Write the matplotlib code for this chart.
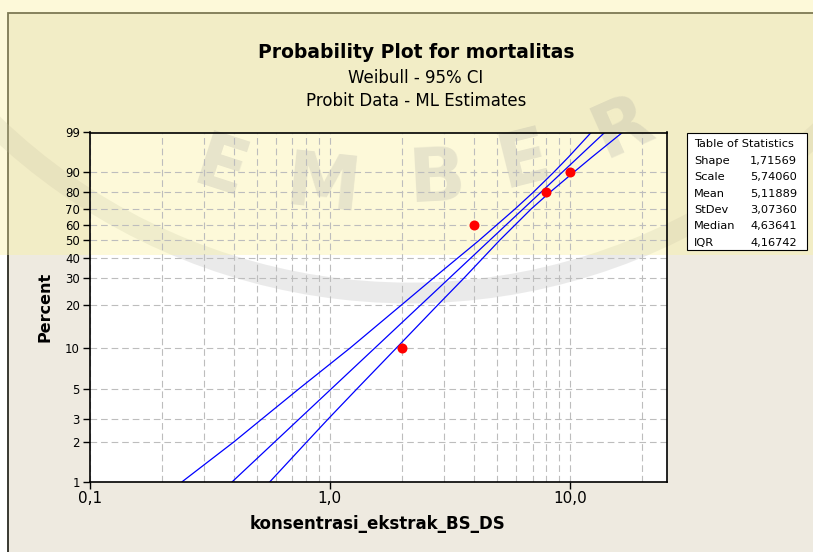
import numpy as np
import matplotlib
matplotlib.use("Agg")
import matplotlib.pyplot as plt
from matplotlib.patches import Rectangle, Arc
from matplotlib.transforms import IdentityTransform
from matplotlib.ticker import FixedLocator, NullFormatter, NullLocator, LogLocator

# observed data (konsentrasi vs percent mortality)
konsentrasi = [2, 4, 8, 10]
mortalitas = [10, 60, 80, 90]

# fitted Weibull line (read at 1% and 99%)
fit_pct = [1, 99]
fit_x = [0.393, 13.98]

# 95% CI band
ci_pct = [1, 2, 3, 5, 10, 20, 30, 50, 70, 80, 90, 95, 99]
ci_lower = [0.243, 0.399, 0.525, 0.745, 1.22, 1.99, 2.70, 4.19, 5.92, 7.04, 8.60, 9.89, 12.28]
ci_upper = [0.564, 0.803, 0.990, 1.300, 1.90, 2.82, 3.62, 5.10, 6.91, 8.26, 10.42, 12.39, 16.57]

stat_names = ["Shape", "Scale", "Mean", "StDev", "Median", "IQR"]
stat_values = ["1,71569", "5,74060", "5,11889", "3,07360", "4,63641", "4,16742"]

y_ticks = [1, 2, 3, 5, 10, 20, 30, 40, 50, 60, 70, 80, 90, 99]
x_ticks = [0.1, 1, 10]
x_ticklabels = ["0,1", "1,0", "10,0"]

W, H = 813, 552
plt.rcParams["font.family"] = ["DejaVu Sans"]


def fx(x):
    return x / W


def fy(y):
    return 1 - y / H


def weibull_fwd(p):
    p = np.clip(np.asarray(p, dtype=float), 1e-6, 100 - 1e-6)
    return np.log(-np.log(1 - p / 100))


def weibull_inv(t):
    return 100 * (1 - np.exp(-np.exp(t)))


fig = plt.figure(figsize=(W / 100, H / 100), dpi=100, facecolor="white")

# beige Minitab graph background with its frame (only top/left visible)
fig.patches.append(Rectangle((fx(8), -0.05), 1.2, fy(13) + 0.05, transform=fig.transFigure,
                             facecolor="#EEEAE0", edgecolor="#2A2A22", lw=1.3, zorder=-3))

left, bottom = fx(89.6), fy(481.7)
width, height = fx(667.3) - fx(89.6), fy(132.5) - fy(481.7)
# white plot area drawn under the watermark, the axes itself stays transparent
fig.patches.append(Rectangle((left, bottom), width, height, transform=fig.transFigure,
                             facecolor="white", edgecolor="none", zorder=-2.5))

ax = fig.add_axes([left, bottom, width, height])
ax.set_facecolor("none")
ax.set_xscale("log")
ax.set_yscale("function", functions=(weibull_fwd, weibull_inv))
ax.set_xlim(0.1, 25.5)
ax.set_ylim(1, 99)

ax.yaxis.set_major_locator(FixedLocator(y_ticks))
ax.yaxis.set_minor_locator(NullLocator())
ax.set_yticklabels([str(v) for v in y_ticks], fontsize=8.5)
ax.set_xticks(x_ticks)
ax.set_xticklabels(x_ticklabels, fontsize=11)
ax.xaxis.set_minor_locator(LogLocator(base=10, subs=np.arange(2, 10)))
ax.xaxis.set_minor_formatter(NullFormatter())
ax.tick_params(which="major", direction="out", length=5, width=1, color="black", pad=2)
ax.tick_params(which="minor", length=0)

ax.grid(True, which="major", axis="y", color="#BDBDBD", lw=0.8, linestyle=(0, (6, 3.5)))
ax.grid(True, which="both", axis="x", color="#BDBDBD", lw=0.8, linestyle=(0, (6, 3.5)))
ax.set_axisbelow(True)
for s in ax.spines.values():
    s.set_linewidth(1.2)
    s.set_color("black")

# fitted line and CI band
ax.plot(fit_x, fit_pct, color="#0000FF", lw=0.9)
ax.plot(ci_lower, ci_pct, color="#0000FF", lw=0.9)
ax.plot(ci_upper, ci_pct, color="#0000FF", lw=0.9)
ax.plot(konsentrasi, mortalitas, "o", color="#FF0000", markersize=7.2, markeredgewidth=0, zorder=5)

# titles and axis labels
fig.text(fx(416), fy(52), "Probability Plot for mortalitas", ha="center", va="center",
         fontsize=13.5, fontweight="bold")
fig.text(fx(416), fy(78), "Weibull - 95% CI", ha="center", va="center", fontsize=12)
fig.text(fx(416), fy(101), "Probit Data - ML Estimates", ha="center", va="center", fontsize=12)
fig.text(fx(45), fy(307), "Percent", rotation=90, ha="center", va="center",
         fontsize=11.5, fontweight="bold")
fig.text(fx(377), fy(524), "konsentrasi_ekstrak_BS_DS", ha="center", va="center",
         fontsize=12, fontweight="bold")

# table of statistics
fig.patches.append(Rectangle((fx(686.7), fy(250)), fx(806.7) - fx(686.7), fy(133.3) - fy(250),
                             transform=fig.transFigure, facecolor="white", edgecolor="black",
                             lw=0.8, zorder=1))
fig.text(fx(694), fy(144), "Table of Statistics", ha="left", va="center", fontsize=8.2, zorder=2)
for i, (n, v) in enumerate(zip(stat_names, stat_values)):
    yy = 161 + i * 16.35
    fig.text(fx(694), fy(yy), n, ha="left", va="center", fontsize=8.2, zorder=2)
    fig.text(fx(797), fy(yy), v, ha="right", va="center", fontsize=8.2, zorder=2)

# faint watermark of the source document, kept under the chart content
fig.patches.append(Rectangle((0, fy(255)), 1, 1 - fy(255), transform=fig.transFigure,
                             facecolor="#FAF2A0", edgecolor="none", alpha=0.4, zorder=-2))
band = Arc((410, H + 307), 2 * 600, 2 * 600, theta1=200, theta2=340, transform=IdentityTransform(),
           color="#9A9A9A", lw=15, alpha=0.2, zorder=-2)
fig.add_artist(band)
for ch, x, y, rot in [("E", 220, 170, -18), ("M", 322, 188, -6),
                      ("B", 437, 180, 3), ("E", 524, 162, 14), ("R", 622, 128, 24)]:
    fig.text(fx(x), fy(y), ch, ha="center", va="center", rotation=rot, fontsize=54,
             fontweight="bold", color="#9A9A9A", alpha=0.22, zorder=-2)

fig.savefig("out.png", dpi=100, facecolor=fig.get_facecolor())
